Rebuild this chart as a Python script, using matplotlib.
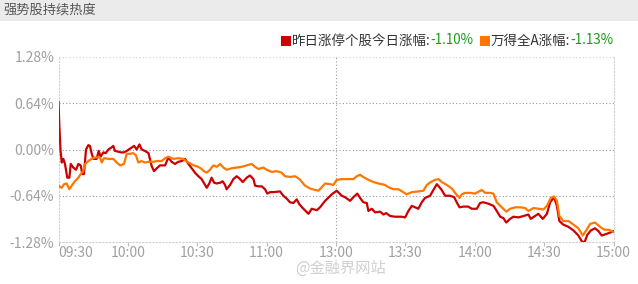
import matplotlib
matplotlib.use("Agg")
import matplotlib.pyplot as plt
from matplotlib.patches import Rectangle

plt.rcParams['font.family'] = ['Noto Sans CJK SC', 'DejaVu Sans']

# ---------------- data ----------------
title = "强势股持续热度"
legend_names = ["昨日涨停个股今日涨幅:", "万得全A涨幅:"]
legend_values = ["-1.10%", "-1.13%"]
tick_minutes = [0, 30, 60, 90, 120, 150, 180, 210, 240]
tick_labels = ["09:30", "10:00", "10:30", "11:00", "13:00", "13:30", "14:00", "14:30", "15:00"]
y_ticks = [1.28, 0.64, 0.0, -0.64, -1.28]
y_labels = ["1.28%", "0.64%", "0.00%", "-0.64%", "-1.28%"]

# trading minutes since 09:30 (lunch break removed), values in %
red_t = [0, 0.4, 0.9, 1.4, 2.1, 2.8, 3.8, 4.7, 5.3, 6.4, 7.6, 8.6, 9.6, 10.3, 11.0, 11.9, 12.9,
         13.6, 14.3, 15.1, 16.5, 17.4, 18.2, 19.4, 20.4, 21.6, 23.0, 23.7, 24.4, 25.9, 26.9, 28.3,
         29.5, 30.9, 32.7, 33.8, 35.0, 36.0, 37.4, 38.9, 40.3, 41.3, 42.5, 43.9, 46.1, 47.5, 48.9,
         50.4, 51.8, 53.3, 54.7, 56.2, 57.6, 59.0, 60.5, 61.9, 63.4, 64.1, 65.2, 66.2, 67.3, 68.4,
         69.9, 71.0, 72.0, 72.7, 74.2, 75.6, 77.1, 78.5, 79.7, 81.4, 82.8, 84.3, 85.0, 86.4, 87.9,
         89.3, 90.3, 91.5, 92.9, 95.8, 97.2, 98.7, 100.1, 101.6, 103.0, 104.2, 105.9, 108.1, 109.5,
         111.7, 113.1, 115.3, 118.2, 120.3, 122.5, 123.9, 126.1, 127.5, 129.2, 130.4, 131.8, 133.3,
         134.0, 135.5, 136.9, 139.1, 140.5, 141.7, 143.4, 145.5, 148.4, 149.9, 151.3, 152.8, 154.2,
         155.6, 157.1, 158.5, 160.7, 162.1, 163.6, 164.7, 165.7, 167.2, 169.3, 171.1, 172.2, 173.4,
         175.1, 177.2, 178.7, 180.9, 182.3, 183.7, 185.9, 188.1, 189.5, 191.0, 192.4, 193.6, 195.3,
         196.7, 198.9, 201.0, 203.2, 204.2, 206.1, 207.5, 209.4, 211.2, 212.6, 214.3, 215.5, 216.6,
         218.3, 220.5, 222.7, 224.8, 226.3, 227.4, 228.7, 230.2, 232.0, 233.5, 234.9, 236.8, 238.5,
         240]
red_v = [0.66, 0.30, -0.02, -0.18, -0.13, -0.20, -0.39, -0.39, -0.20, -0.25, -0.28, -0.20, -0.22,
         -0.34, -0.34, 0.00, 0.06, 0.05, -0.05, -0.13, -0.13, -0.02, -0.10, -0.04, -0.05, 0.00,
         0.03, 0.05, -0.02, -0.03, -0.04, -0.04, -0.02, 0.01, 0.05, 0.00, 0.07, 0.00, -0.02, -0.05,
         -0.23, -0.30, -0.26, -0.22, -0.22, -0.11, -0.17, -0.20, -0.17, -0.16, -0.13, -0.20, -0.26,
         -0.32, -0.37, -0.41, -0.49, -0.53, -0.47, -0.39, -0.46, -0.47, -0.46, -0.44, -0.49, -0.55,
         -0.49, -0.41, -0.37, -0.41, -0.45, -0.39, -0.36, -0.41, -0.50, -0.51, -0.51, -0.55, -0.61,
         -0.59, -0.59, -0.58, -0.64, -0.68, -0.73, -0.74, -0.69, -0.76, -0.82, -0.89, -0.82, -0.84,
         -0.80, -0.71, -0.62, -0.57, -0.64, -0.66, -0.71, -0.66, -0.61, -0.67, -0.73, -0.74, -0.85,
         -0.82, -0.87, -0.86, -0.90, -0.88, -0.92, -0.93, -0.93, -0.94, -0.85, -0.78, -0.80, -0.82,
         -0.73, -0.67, -0.64, -0.56, -0.48, -0.52, -0.56, -0.64, -0.64, -0.66, -0.73, -0.80, -0.79,
         -0.79, -0.82, -0.82, -0.74, -0.73, -0.75, -0.78, -0.85, -0.93, -0.95, -1.01, -0.96, -0.93,
         -0.94, -0.92, -0.90, -0.96, -0.92, -0.89, -0.96, -0.89, -0.73, -0.66, -0.78, -0.99, -1.04,
         -1.07, -1.12, -1.19, -1.27, -1.29, -1.18, -1.12, -1.09, -1.13, -1.19, -1.17, -1.15, -1.13]

orange_t = [0, 1.4, 2.4, 3.5, 4.7, 5.7, 7.1, 8.6, 9.6, 10.7, 11.5, 12.9, 14.3, 15.8, 17.9, 18.7,
            19.7, 21.6, 23.7, 25.2, 26.6, 28.3, 29.5, 30.9, 32.3, 33.5, 34.5, 35.9, 37.4, 38.9,
            41.0, 42.5, 44.6, 46.1, 47.5, 49.7, 51.8, 54.0, 55.5, 56.9, 58.3, 59.8, 61.5, 62.9,
            64.1, 65.5, 67.0, 68.4, 69.9, 71.3, 72.7, 74.9, 77.1, 79.2, 81.4, 83.5, 85.0, 86.4,
            88.6, 90.0, 92.2, 94.3, 96.5, 97.9, 100.1, 102.3, 104.2, 106.6, 108.8, 111.0, 112.4,
            113.9, 115.3, 117.5, 118.9, 120.3, 122.5, 125.4, 127.5, 129.0, 130.4, 131.8, 134.0,
            136.2, 138.3, 141.2, 142.6, 144.8, 147.0, 149.1, 150.6, 152.8, 155.6, 157.8, 159.3,
            161.0, 162.9, 164.3, 165.7, 167.9, 170.1, 171.5, 173.4, 174.4, 175.8, 178.0, 180.2,
            183.0, 184.5, 186.6, 188.1, 189.5, 191.7, 193.6, 195.3, 197.5, 199.7, 201.8, 203.2,
            205.4, 207.5, 209.7, 211.2, 212.9, 214.3, 215.5, 216.6, 218.3, 220.5, 222.7, 224.8,
            226.7, 228.2, 229.9, 232.0, 234.2, 236.0, 237.8, 240]
orange_v = [-0.50, -0.53, -0.48, -0.47, -0.55, -0.50, -0.44, -0.39, -0.34, -0.30, -0.20, -0.16,
            -0.13, -0.11, -0.11, -0.18, -0.12, -0.13, -0.13, -0.18, -0.22, -0.20, -0.06, -0.06,
            -0.05, -0.08, -0.18, -0.16, -0.18, -0.17, -0.17, -0.16, -0.16, -0.12, -0.10, -0.13,
            -0.12, -0.13, -0.17, -0.19, -0.22, -0.23, -0.26, -0.30, -0.32, -0.28, -0.22, -0.24,
            -0.20, -0.25, -0.28, -0.26, -0.25, -0.24, -0.22, -0.20, -0.24, -0.27, -0.25, -0.28,
            -0.31, -0.30, -0.32, -0.37, -0.38, -0.37, -0.41, -0.50, -0.54, -0.56, -0.57, -0.52,
            -0.47, -0.48, -0.49, -0.42, -0.41, -0.41, -0.41, -0.37, -0.35, -0.38, -0.42, -0.45,
            -0.47, -0.49, -0.52, -0.55, -0.55, -0.59, -0.62, -0.59, -0.58, -0.57, -0.49, -0.45,
            -0.42, -0.41, -0.45, -0.49, -0.54, -0.60, -0.67, -0.62, -0.60, -0.60, -0.61, -0.56,
            -0.60, -0.60, -0.61, -0.73, -0.80, -0.86, -0.82, -0.80, -0.80, -0.81, -0.85, -0.81,
            -0.82, -0.83, -0.78, -0.67, -0.65, -0.71, -0.92, -0.99, -0.99, -1.04, -1.09, -1.19,
            -1.12, -1.03, -1.01, -1.07, -1.11, -1.11, -1.14]

# ---------------- figure ----------------
W, H = 638, 284
fig = plt.figure(figsize=(W / 100, H / 100), dpi=100)
fig.patch.set_facecolor('white')

def fx(px):
    return px / W

def fy(py):
    return 1 - py / H

# title bar
fig.add_artist(Rectangle((0, fy(21)), 1, 21 / H, transform=fig.transFigure,
                         facecolor='#ebebeb', edgecolor='none'))
fig.text(fx(3), fy(10.5), title, fontsize=9.5, color='#555555', va='center', ha='left')

ax = fig.add_axes([fx(58.5), fy(242), fx(613.5) - fx(58.5), fy(57) - fy(242)])
ax.set_xlim(0, 240)
ax.set_ylim(-1.28, 1.28)

red_c = '#cc0000'
orange_c = '#ff7700'
ax.plot(red_t, red_v, color=red_c, lw=1.6, zorder=3, solid_joinstyle='round')
ax.plot(orange_t, orange_v, color=orange_c, lw=1.6, zorder=4, solid_joinstyle='round')

# grid
for yv in [0.64, 0.0, -0.64]:
    ax.axhline(yv, color='#9a9a9a', lw=0.8, ls=(0, (1, 2)), zorder=1)
ax.axhline(1.28, color='#cfcfcf', lw=0.8, ls=(0, (1, 2)), zorder=1)
ax.axvline(120, color='#9a9a9a', lw=0.8, ls=(0, (1, 2)), zorder=1)
for sp in ['left', 'right', 'bottom']:
    ax.spines[sp].set_color('#cfcfcf')
    ax.spines[sp].set_linestyle((0, (1, 2)))
    ax.spines[sp].set_linewidth(0.8)
ax.spines['top'].set_visible(False)

ax.set_yticks(y_ticks)
ax.set_yticklabels(y_labels)
ax.set_xticks(tick_minutes)
ax.set_xticklabels(tick_labels)
ax.tick_params(axis='y', length=0, labelsize=10, labelcolor='#a0a0a0', pad=3)
ax.tick_params(axis='x', length=3, width=0.8, color='#bbbbbb', direction='out',
               labelsize=10, labelcolor='#a0a0a0', pad=0)
labs = ax.get_xticklabels()
labs[0].set_ha('left')

# legend built from pieces
fig.canvas.draw()
renderer = fig.canvas.get_renderer()
x = 281.0
yc = 40.5
items = [(red_c, legend_names[0], legend_values[0]), (orange_c, legend_names[1], legend_values[1])]
for i, (col, name, val) in enumerate(items):
    fig.add_artist(Rectangle((fx(x), fy(yc + 5)), 10 / W, 10 / H, transform=fig.transFigure,
                             facecolor=col, edgecolor='none'))
    x += 11
    t1 = fig.text(fx(x), fy(yc), name, fontsize=9.7, color='#333333', va='center', ha='left')
    x += t1.get_window_extent(renderer).width
    t2 = fig.text(fx(x), fy(yc), val, fontsize=9.7, color='#1a9a1a', va='center', ha='left')
    x += t2.get_window_extent(renderer).width + 6

# watermark
fig.text(fx(340), fy(268), "@金融界网站", fontsize=11, color='#d0d0d0', va='center', ha='center')

fig.savefig('out.png', dpi=100, facecolor='white')
